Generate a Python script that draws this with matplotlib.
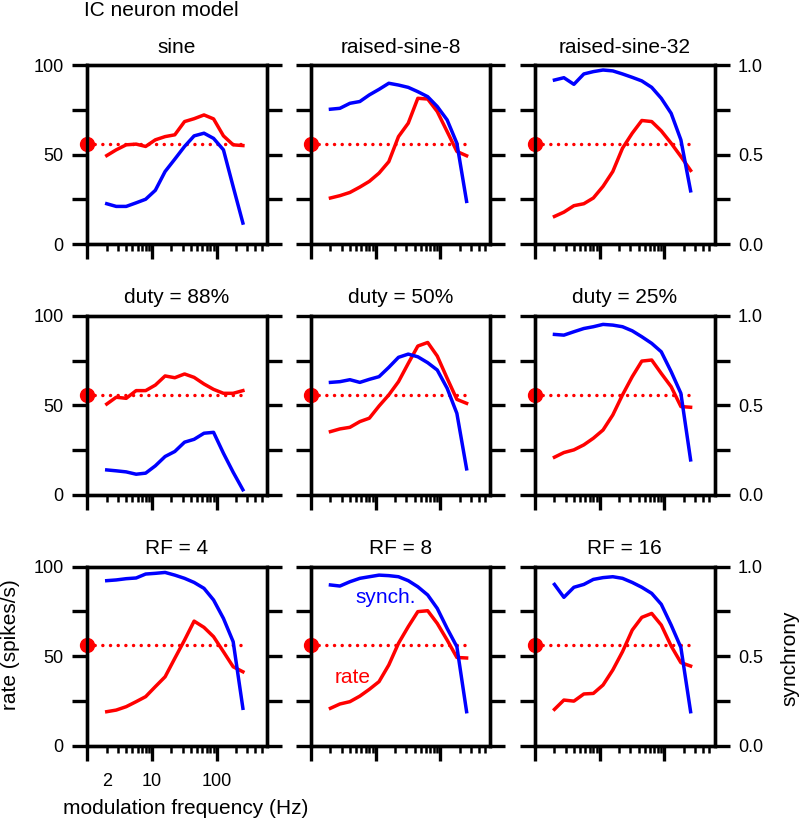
import matplotlib.pyplot as plt
from matplotlib.ticker import NullFormatter, FixedLocator

plt.rcParams["font.family"] = ["Liberation Sans", "DejaVu Sans"]

freqs = [2, 2.8, 4, 5.7, 8, 11.3, 16, 22.6, 32, 45, 64, 90, 128, 181, 256]
rate_ref = 56

titles = ["sine", "raised-sine-8", "raised-sine-32",
          "duty = 88%", "duty = 50%", "duty = 25%",
          "RF = 4", "RF = 8", "RF = 16"]

# rate (spikes/s)
rate_sine = [49.4, 52.6, 55.4, 55.8, 54.5, 58.2, 60, 61, 68.4, 70, 72.1, 69.9, 60.4, 55.4, 55]
rate_rs8 = [25.7, 27, 28.8, 31.8, 35, 39.6, 46, 60, 67.5, 81.4, 81, 74, 62.8, 51.7, 49.3]
rate_rs32 = [15.4, 17.8, 21.4, 22.5, 25.7, 32.2, 40.5, 53.5, 61.9, 69, 68.4, 63.2, 56.3, 48.9, 41.1]
rate_d88 = [50.7, 54.5, 53.9, 58.2, 58.2, 61.3, 66.4, 65.4, 67.5, 65.6, 61.9, 58.9, 56.7, 56.7, 58.2]
rate_d50 = [35.3, 36.8, 37.7, 40.9, 42.8, 49.6, 55.8, 63.2, 73.4, 83.1, 85.1, 77.5, 65.1, 53.3, 51.1]
rate_d25 = [21, 23.6, 25.1, 27.9, 31.6, 36.2, 44.6, 55.8, 66, 74.7, 75.3, 67.8, 60.4, 49.3, 48.9]
rate_rf4 = [19, 19.9, 21.8, 24.6, 27.4, 33, 38.5, 48.8, 59, 69.6, 66.1, 60.9, 52.5, 44.1, 41.3]
rate_rf8 = [20.9, 23.3, 24.6, 27.7, 31.5, 35.8, 45.1, 57.2, 66.5, 74.9, 75.4, 68.3, 59, 49.3, 49]
rate_rf16 = [20.3, 25.5, 24.9, 28.9, 29.2, 33.9, 42.3, 52.5, 64.6, 71.7, 73.9, 67.4, 55.7, 46.4, 44.5]

# synchrony
sync_sine = [0.225, 0.21, 0.21, 0.23, 0.25, 0.30, 0.405, 0.474, 0.545, 0.604, 0.619, 0.59, 0.526, 0.32, 0.117]
sync_rs8 = [0.753, 0.758, 0.786, 0.796, 0.833, 0.864, 0.898, 0.888, 0.875, 0.851, 0.823, 0.768, 0.693, 0.563, 0.238]
sync_rs32 = [0.916, 0.929, 0.892, 0.95, 0.963, 0.972, 0.967, 0.95, 0.931, 0.911, 0.875, 0.814, 0.73, 0.582, 0.297]
sync_d88 = [0.139, 0.134, 0.128, 0.115, 0.121, 0.162, 0.214, 0.242, 0.294, 0.31, 0.344, 0.349, 0.232, 0.126, 0.028]
sync_d50 = [0.628, 0.632, 0.643, 0.628, 0.645, 0.66, 0.712, 0.768, 0.786, 0.771, 0.738, 0.697, 0.595, 0.455, 0.145]
sync_d25 = [0.896, 0.892, 0.911, 0.929, 0.939, 0.952, 0.948, 0.939, 0.916, 0.883, 0.846, 0.799, 0.688, 0.567, 0.195]
sync_rf4 = [0.922, 0.926, 0.933, 0.937, 0.959, 0.963, 0.968, 0.953, 0.935, 0.912, 0.879, 0.814, 0.711, 0.581, 0.209]
sync_rf8 = [0.898, 0.892, 0.916, 0.935, 0.944, 0.953, 0.95, 0.944, 0.922, 0.888, 0.842, 0.767, 0.655, 0.553, 0.19]
sync_rf16 = [0.901, 0.829, 0.885, 0.901, 0.929, 0.939, 0.944, 0.935, 0.912, 0.885, 0.851, 0.79, 0.674, 0.549, 0.19]

rates = [rate_sine, rate_rs8, rate_rs32, rate_d88, rate_d50, rate_d25, rate_rf4, rate_rf8, rate_rf16]
syncs = [sync_sine, sync_rs8, sync_rs32, sync_d88, sync_d50, sync_d25, sync_rf4, sync_rf8, sync_rf16]

W, H = 800, 821
fig = plt.figure(figsize=(W / 100, H / 100), dpi=100)

col_left = [87.3, 311, 535]
row_top = [65, 315.8, 566.7]
aw, ah = 179.5, 179

lw_axis = 2.4
lw_line = 2.5
minor = [2, 3, 4, 5, 6, 7, 8, 9, 20, 30, 40, 50, 60, 70, 80, 90, 200, 300, 400, 500]

for i in range(9):
    r, c = divmod(i, 3)
    ax = fig.add_axes([col_left[c] / W, 1 - (row_top[r] + ah) / H, aw / W, ah / H])
    ax.set_xscale("log")
    ax.set_xlim(1, 600)
    ax.set_ylim(0, 100)

    ax.plot(freqs, rates[i], color="#ff0000", lw=lw_line, zorder=3)
    ax.plot([1, freqs[-1]], [rate_ref, rate_ref], color="#ff0000", lw=2.5,
            dashes=(0.01, 2.2), dash_capstyle="round", zorder=2)
    ax.plot([1], [rate_ref], "o", color="#ff0000", ms=10, clip_on=False, zorder=5)

    for s in ax.spines.values():
        s.set_linewidth(lw_axis)

    ax.xaxis.set_major_locator(FixedLocator([1, 10, 100]))
    ax.xaxis.set_minor_locator(FixedLocator(minor))
    ax.xaxis.set_major_formatter(NullFormatter())
    ax.xaxis.set_minor_formatter(NullFormatter())
    ax.set_yticks([0, 25, 50, 75, 100])
    ax.tick_params(axis="both", which="major", direction="out", length=11, width=lw_axis,
                   labelsize=13, pad=6)
    ax.tick_params(axis="x", which="minor", direction="out", length=5, width=1.8)

    if i == 6:
        ax.set_xticks([1, 10, 100], ["", "10", "100"])
        ax.set_xticks(minor, ["2"] + [""] * (len(minor) - 1), minor=True)
        ax.tick_params(axis="x", which="major", labelsize=13, pad=9)
        ax.tick_params(axis="x", which="minor", labelsize=13, pad=15)
    if c == 0:
        ax.set_yticklabels(["0", "", "50", "", "100"])
    else:
        ax.set_yticklabels([])

    ax.set_title(titles[i], fontsize=15, pad=9)

    ax2 = ax.twinx()
    ax2.set_ylim(0, 1)
    ax2.plot(freqs, syncs[i], color="#0000ff", lw=lw_line, zorder=3)
    ax2.set_yticks([0, 0.25, 0.5, 0.75, 1.0])
    ax2.tick_params(axis="y", direction="out", length=11, width=lw_axis, labelsize=13, pad=6)
    if c == 2:
        ax2.set_yticklabels(["0.0", "", "0.5", "", "1.0"])
    else:
        ax2.set_yticklabels([])
    for s in ax2.spines.values():
        s.set_linewidth(lw_axis)

    if i == 7:
        ax.text(4.8, 80, "synch.", color="#0000ff", fontsize=15, ha="left", va="baseline", zorder=6)
        ax.text(2.35, 35, "rate", color="#ff0000", fontsize=15, ha="left", va="baseline", zorder=6)

fig.text(161 / W, 1 - 10 / H, "IC neuron model", fontsize=15, ha="center", va="center")
fig.text(11 / W, 1 - 645 / H, "rate (spikes/s)", fontsize=15, rotation=90, ha="center", va="center")
fig.text(790 / W, 1 - 658 / H, "synchrony", fontsize=15, rotation=90, ha="center", va="center")
fig.text(185.5 / W, 1 - 808 / H, "modulation frequency (Hz)", fontsize=15, ha="center", va="center")

fig.savefig("out.png", dpi=100)
